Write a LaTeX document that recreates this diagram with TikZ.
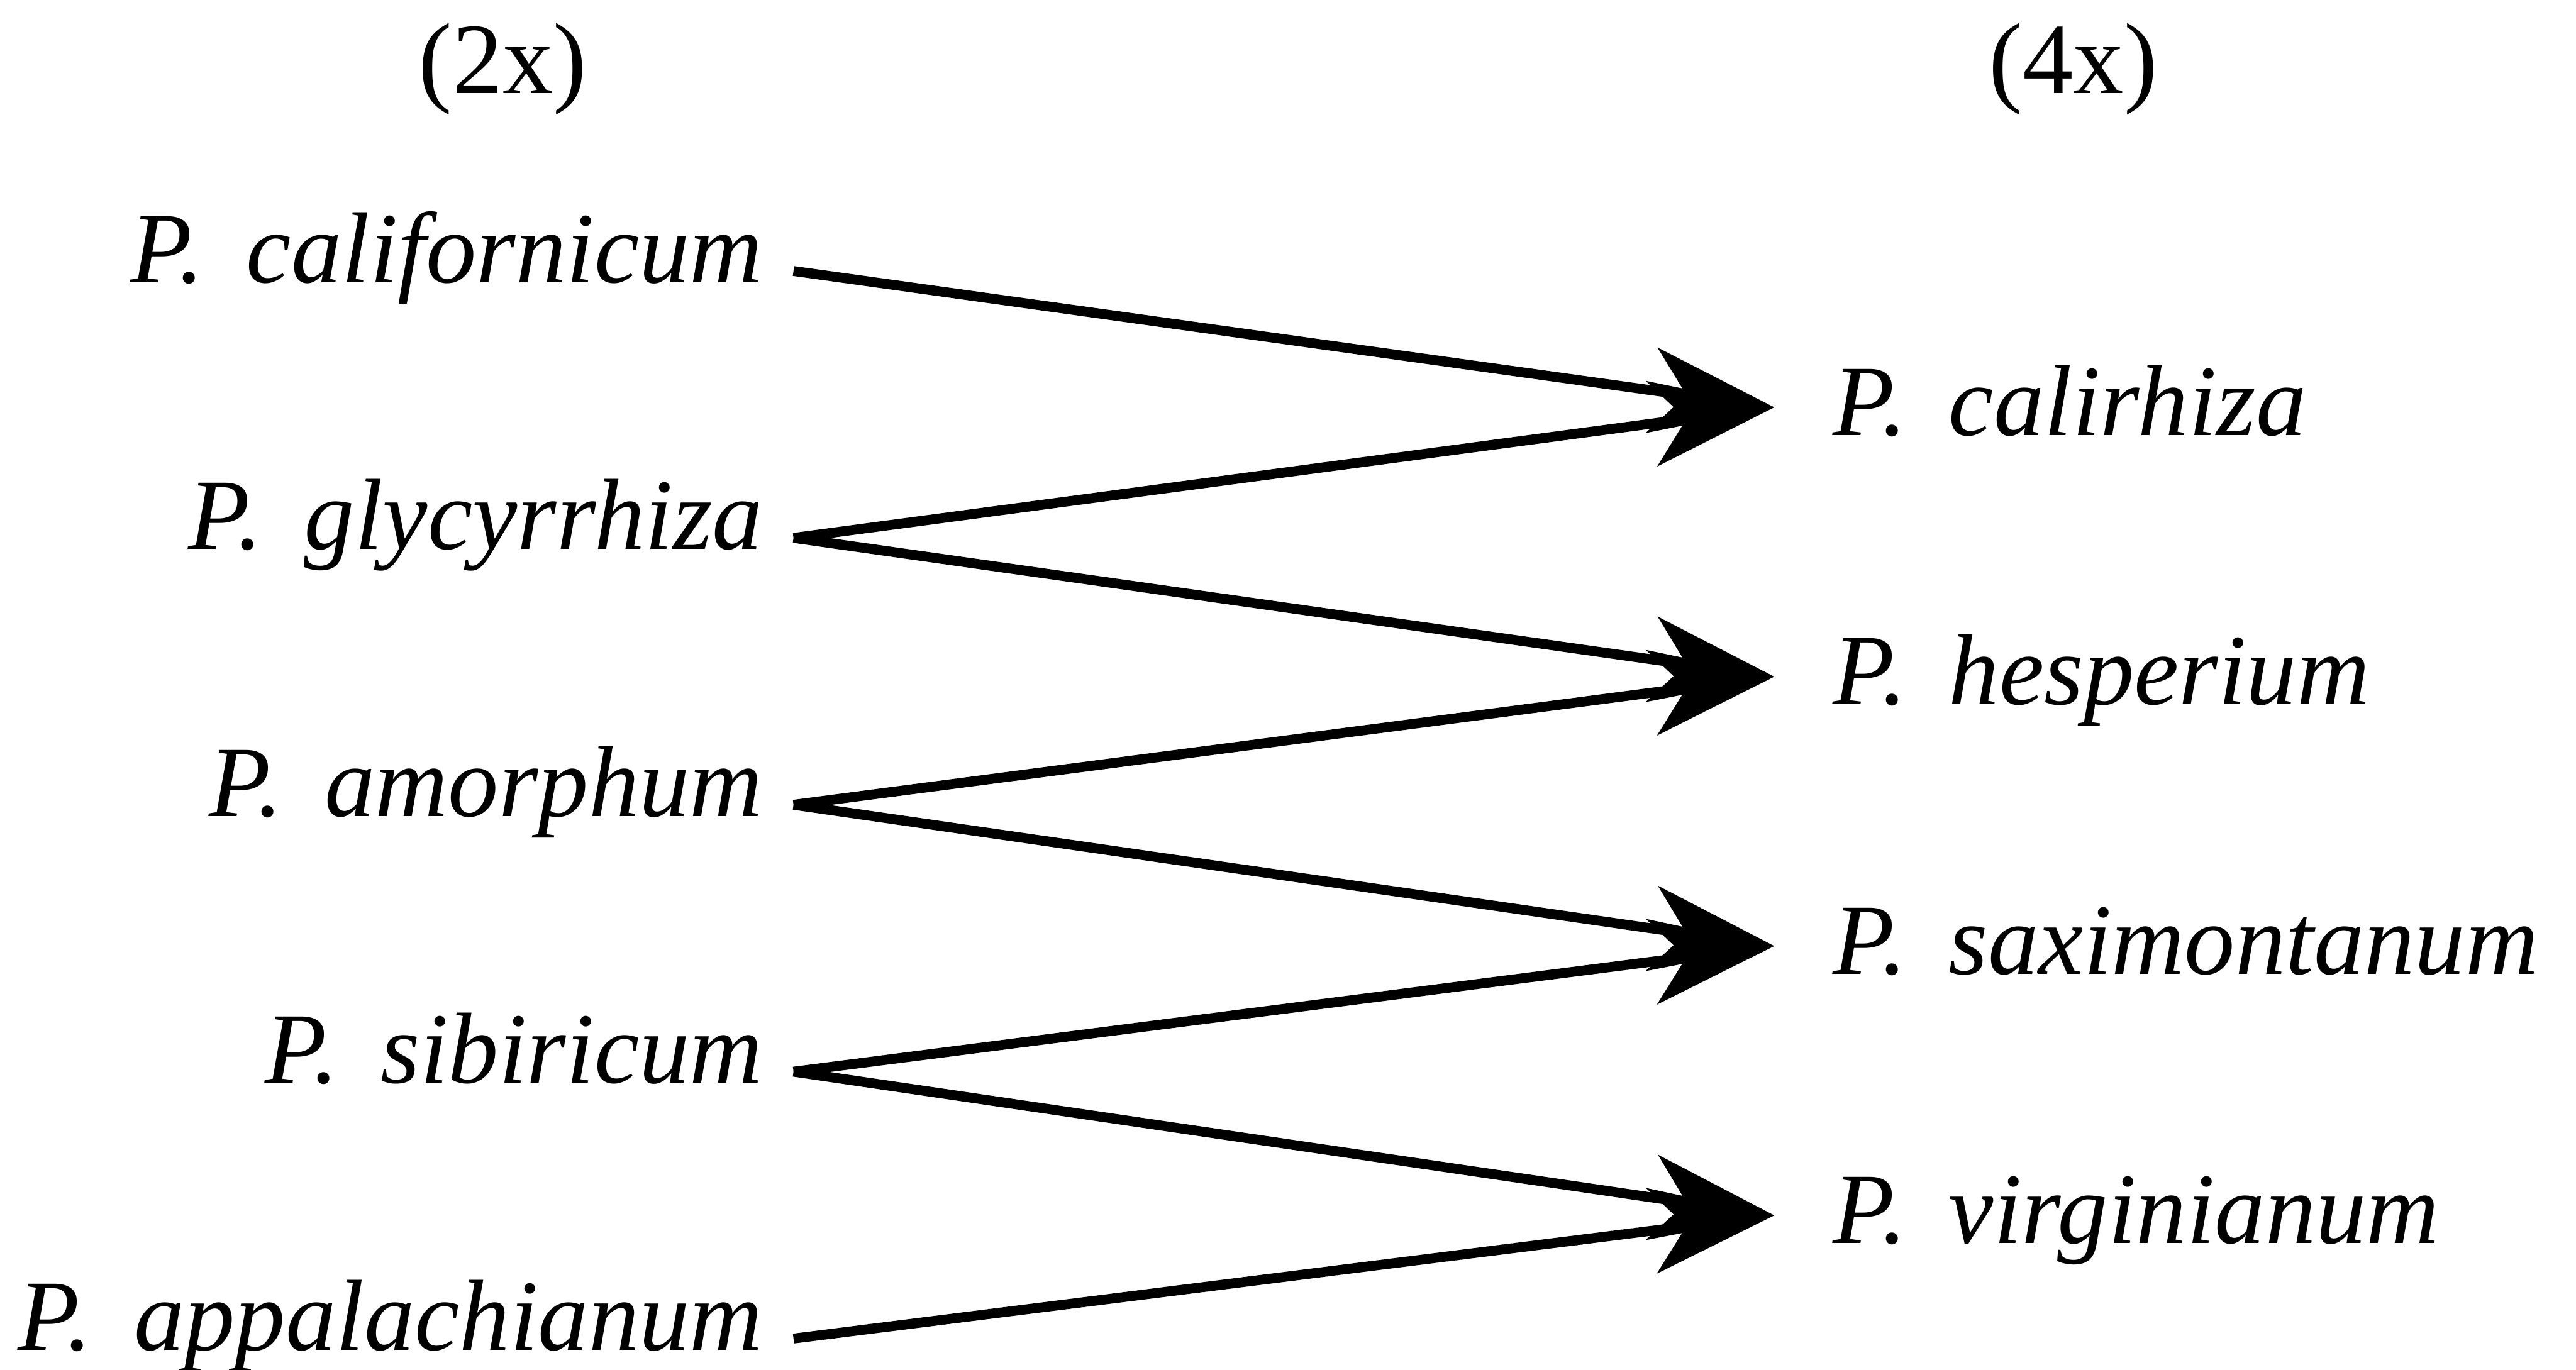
\documentclass[tikz,border=0pt]{standalone}
\usepackage{fontspec}
\setmainfont{Liberation Serif}
\usepackage{tikz}
\usetikzlibrary{arrows.meta}
\tikzset{
    % Every label in the picture
    every node/.style={font=\fontsize{17.5}{20}\selectfont},
    % Diploid species (left column)
    diploid/.style={
        anchor=base east,
        inner xsep=0.18cm,
        inner ysep=0pt,
        text height=0.43cm,
        text depth=0.29cm,
        font=\fontsize{17.5}{20}\selectfont\itshape
    },
    % Tetraploid species (right column)
    tetraploid/.style={
        anchor=base west,
        inner xsep=0.35cm,
        inner ysep=0pt,
        text height=0.43cm,
        text depth=0.09cm,
        font=\fontsize{17.5}{20}\selectfont\itshape
    },
    % Ploidy heading
    ploidy/.style={
        anchor=base,
        font=\fontsize{17.5}{20}\selectfont
    },
    % Arrow style
    arrow/.style={
        -{Stealth[length=0.75cm, width=0.52cm, inset=0.21cm]},
        line width=0.06cm,
        color=black
    }
}
\begin{document}
\begin{tikzpicture}
        \useasboundingbox (0,0) rectangle (15.68,-8.34);
        % Headings
        \node (two) [ploidy] at (3.06,-0.57) {(2x)};
        \node (four) [ploidy] at (12.62,-0.57) {(4x)};

        % Diploids
        \node (cal) [diploid] at (4.83,-1.72) {P.\,\ californicum};
        \node (gly) [diploid] at (4.83,-3.345) {P.\,\ glycyrrhiza};
        \node (amo) [diploid] at (4.83,-4.97) {P.\,\ amorphum};
        \node (sib) [diploid] at (4.83,-6.595) {P.\,\ sibiricum};
        \node (app) [diploid] at (4.83,-8.22) {P.\,\ appalachianum};

        % Tetraploids
        \node (calr) [tetraploid] at (10.80,-2.65) {P.\,\ calirhiza};
        \node (hes) [tetraploid] at (10.80,-4.29) {P.\,\ hesperium};
        \node (sax) [tetraploid] at (10.80,-5.93) {P.\,\ saximontanum};
        \node (vir) [tetraploid] at (10.80,-7.57) {P.\,\ virginianum};

        \draw [arrow] (cal.east) -- (calr.west);
        \draw [arrow] (gly.east) -- (calr.west);
        \draw [arrow] (gly.east) -- (hes.west);
        \draw [arrow] (amo.east) -- (hes.west);
        \draw [arrow] (amo.east) -- (sax.west);
        \draw [arrow] (sib.east) -- (sax.west);
        \draw [arrow] (sib.east) -- (vir.west);
        \draw [arrow] (app.east) -- (vir.west);
\end{tikzpicture}
\end{document}
